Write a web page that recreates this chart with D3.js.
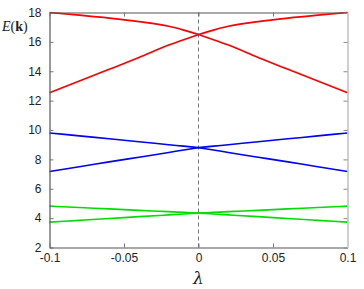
<!DOCTYPE html>
<html><head><meta charset="utf-8">
<script src="https://cdn.jsdelivr.net/npm/d3@7"></script>
<style>body{margin:0;background:#fff}svg{display:block}</style>
</head><body>
<svg id="c" width="364" height="289"></svg>
<script>
const lambda = [-0.1,-0.08,-0.06,-0.04,-0.02,-0.01,0,0.01,0.02,0.04,0.06,0.08,0.1];
const redUpper = [18.0,17.82,17.62,17.38,17.06,16.8,16.5,16.8,17.06,17.38,17.62,17.82,18.0];
const redLower = [12.54,13.33,14.13,14.94,15.78,16.15,16.5,16.15,15.78,14.94,14.13,13.33,12.54];
const blueUpper = [9.8,9.6,9.4,9.2,9.0,8.9,8.8,8.9,9.0,9.2,9.4,9.6,9.8];
const blueLower = [7.18,7.5,7.83,8.15,8.47,8.64,8.8,8.64,8.47,8.15,7.83,7.5,7.18];
const greenUpper = [4.82,4.72,4.63,4.53,4.44,4.39,4.34,4.39,4.44,4.53,4.63,4.72,4.82];
const greenLower = [3.73,3.85,3.97,4.1,4.22,4.28,4.34,4.28,4.22,4.1,3.97,3.85,3.73];
const xTicks = [-0.1,-0.05,0,0.05,0.1];
const yTicks = [2,4,6,8,10,12,14,16,18];

const svg = d3.select('#c');
const L=49.5, R=347.5, T=12.5, B=247.5;
const x = d3.scaleLinear().domain([-0.1,0.1]).range([L,R]);
const y = d3.scaleLinear().domain([2,18]).range([B,T]);
const font = '"Liberation Sans", Arial, sans-serif';

// dashed zero line
svg.append('line').attr('x1',x(0)).attr('x2',x(0)).attr('y1',T).attr('y2',B)
  .attr('stroke','#777').attr('stroke-width',1).attr('stroke-dasharray','4,3');

const series = [
  [redUpper,'#ff0000'],[redLower,'#ff0000'],
  [blueUpper,'#0000ff'],[blueLower,'#0000ff'],
  [greenUpper,'#00dd00'],[greenLower,'#00dd00']
];
const line = d3.line().x(d=>x(d[0])).y(d=>y(d[1])).curve(d3.curveMonotoneX);
const mid = lambda.indexOf(0);
series.forEach(([vals,col])=>{
  const pts = lambda.map((l,i)=>[l,vals[i]]);
  [pts.slice(0,mid+1), pts.slice(mid)].forEach(half=>{
    svg.append('path').datum(half).attr('d',line).attr('fill','none')
      .attr('stroke',col).attr('stroke-width',1.6);
  });
});

// axes
const ax = d3.axisLeft(y).tickValues(yTicks).tickSizeInner(-4).tickSizeOuter(0).tickPadding(8);
const gl = svg.append('g').attr('transform',`translate(${L},0)`).call(ax);
const bx = d3.axisBottom(x).tickValues(xTicks).tickSizeInner(-4).tickSizeOuter(0).tickPadding(8)
  .tickFormat(d=>d===0?'0':String(d));
const gb = svg.append('g').attr('transform',`translate(0,${B})`).call(bx);
const tx = d3.axisTop(x).tickValues(xTicks).tickSizeInner(-4).tickSizeOuter(0).tickFormat('');
const gt = svg.append('g').attr('transform',`translate(0,${T})`).call(tx);
const rx = d3.axisRight(y).tickValues(yTicks).tickSizeInner(-4).tickSizeOuter(0).tickFormat('');
const gr = svg.append('g').attr('transform',`translate(${R},0)`).call(rx);
[gl,gb,gt].forEach(g=>{
  g.select('.domain').attr('stroke','#555').attr('stroke-width',1.2);
  g.selectAll('.tick line').attr('stroke','#777');
  g.selectAll('text').attr('fill','#222').style('font-family',font).style('font-size','12px');
});
gr.select('.domain').attr('stroke','#cfcfcf').attr('stroke-width',2);
gr.selectAll('.tick line').attr('stroke','#888');
gb.selectAll('.tick text').attr('dy','0.5em');

// labels
svg.append('text').attr('x',x(0)).attr('y',284).attr('text-anchor','middle')
  .style('font-family','"DejaVu Serif", serif').style('font-style','italic').style('font-size','17px')
  .attr('fill','#222').text('λ');
const el = svg.append('text').attr('x',2).attr('y',31).attr('fill','#222')
  .style('font-family','"Liberation Serif", "Times New Roman", serif').style('font-size','14px');
el.append('tspan').style('font-style','italic').text('E');
el.append('tspan').text('(');
el.append('tspan').style('font-weight','bold').text('k');
el.append('tspan').text(')');
</script>
</body></html>
